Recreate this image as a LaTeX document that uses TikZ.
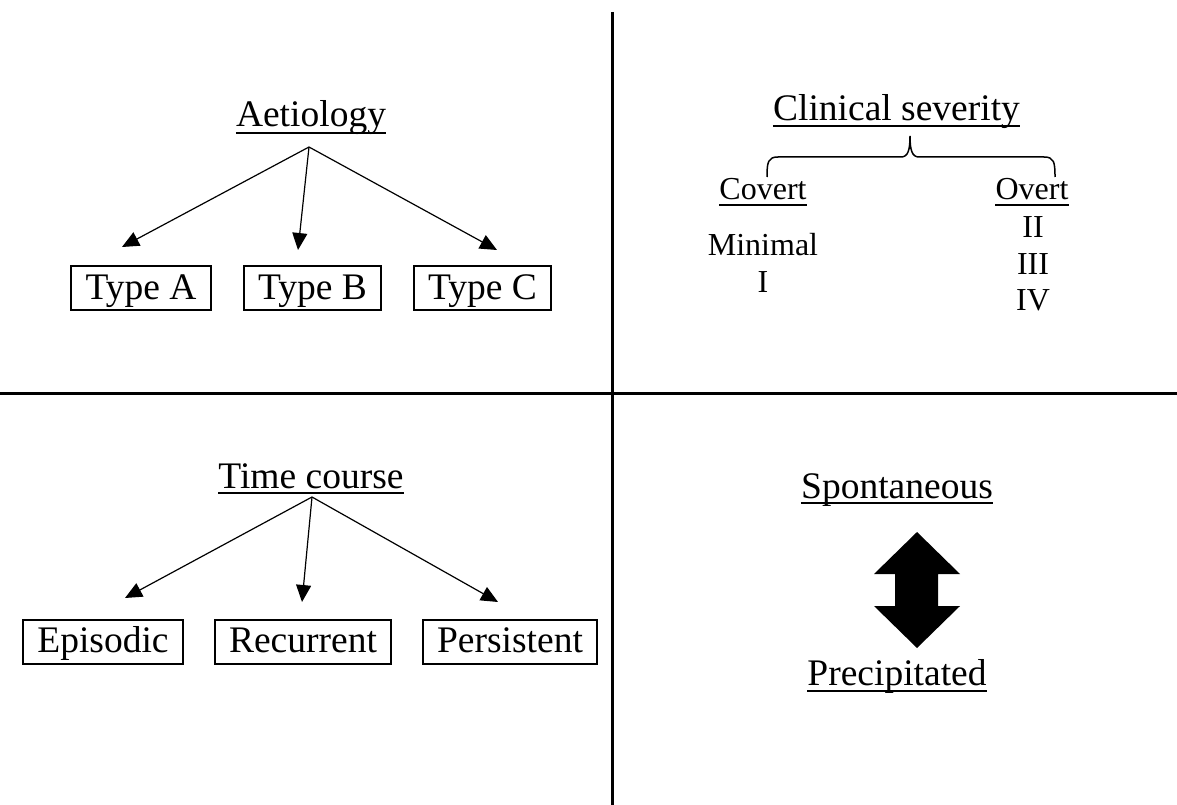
\documentclass[tikz,border=0pt]{standalone}
\usepackage{fontspec}
\setmainfont{Liberation Serif}
\usetikzlibrary{arrows.meta}
\begin{document}
\begin{tikzpicture}[x=1pt,y=-1pt,
  big/.style={font=\fontsize{37.5}{45}\selectfont, inner sep=0pt, anchor=base},
  small/.style={font=\fontsize{32}{38}\selectfont, inner sep=0pt, anchor=base},
  uline/.style={line width=2pt},
  smuline/.style={line width=1.7pt},
  boxnode/.style={draw, line width=2pt, font=\fontsize{37.5}{45}\selectfont,
    inner xsep=14.5pt, inner ysep=0pt, minimum height=44pt,
    text height=28pt, text depth=6pt},
  conn/.style={line width=1.2pt, -{Triangle[length=17pt,width=15pt]}},
  divider/.style={line width=3pt},
  bracestyle/.style={line width=1.5pt},
]
\useasboundingbox (0,0) rectangle (1177,805);

% dividers
\draw[divider] (612,12) -- (612,805);
\draw[divider] (0,393) -- (1177,393);

% ---- Aetiology ----
\node[big] (aet) at (311,127) {Aetiology};
\draw[uline] ([yshift=-6pt]aet.base west) -- ([yshift=-6pt]aet.base east);
\coordinate (aO) at (309,147);
\coordinate (aT1) at (122,247);
\coordinate (aT2) at (298,250);
\coordinate (aT3) at (497,250);
\draw[conn] (aO) -- (aT1);
\draw[conn] (aO) -- (aT2);
\draw[conn] (aO) -- (aT3);
\node[boxnode] (ta) at (141,288) {Type A};
\node[boxnode] (tb) at (312.5,288) {Type B};
\node[boxnode] (tc) at (482.5,288) {Type C};

% ---- Clinical severity ----
\node[big] (cs) at (896.5,121) {Clinical severity};
\draw[uline] ([yshift=-5pt]cs.base west) -- ([yshift=-5pt]cs.base east);
\draw[bracestyle] (767,177) .. controls (767,162) and (768,157) .. (778,157)
  -- (901,157) .. controls (908,157) and (910,150) .. (910,136)
  .. controls (910,150) and (912,157) .. (919,157)
  -- (1044,157) .. controls (1054,157) and (1055,162) .. (1055,177);
\node[small] (cov) at (763,200) {Covert};
\draw[smuline] ([yshift=-5pt]cov.base west) -- ([yshift=-5pt]cov.base east);
\node[small] (ovt) at (1032,200) {Overt};
\draw[smuline] ([yshift=-5pt]ovt.base west) -- ([yshift=-5pt]ovt.base east);
\node[small] (min) at (763,255) {Minimal};
\node[small] (g1) at (763,292) {I};
\node[small] (g2) at (1033,237) {II};
\node[small] (g3) at (1033,274) {III};
\node[small] (g4) at (1033,310) {IV};

% ---- Time course ----
\node[big] (tcrs) at (311,488) {Time course};
\draw[uline] ([yshift=-5pt]tcrs.base west) -- ([yshift=-5pt]tcrs.base east);
\coordinate (tO) at (312,497);
\coordinate (tT1) at (125,598);
\coordinate (tT2) at (302,602);
\coordinate (tT3) at (498,602);
\draw[conn] (tO) -- (tT1);
\draw[conn] (tO) -- (tT2);
\draw[conn] (tO) -- (tT3);
\node[boxnode] (epi) at (103,641.5) {Episodic};
\node[boxnode] (rec) at (303,641.5) {Recurrent};
\node[boxnode] (per) at (510,641.5) {Persistent};

% ---- Spontaneous / Precipitated ----
\node[big] (spo) at (897,498) {Spontaneous};
\draw[uline] ([yshift=-5pt]spo.base west) -- ([yshift=-5pt]spo.base east);
\node[big] (pre) at (897,685) {Precipitated};
\draw[uline] ([yshift=-6pt]pre.base west) -- ([yshift=-6pt]pre.base east);
\fill (917,532) -- (960,574) -- (938,574) -- (938,606) -- (960,606) -- (917,648)
  -- (874,606) -- (895,606) -- (895,574) -- (874,574) -- cycle;
\end{tikzpicture}
\end{document}
